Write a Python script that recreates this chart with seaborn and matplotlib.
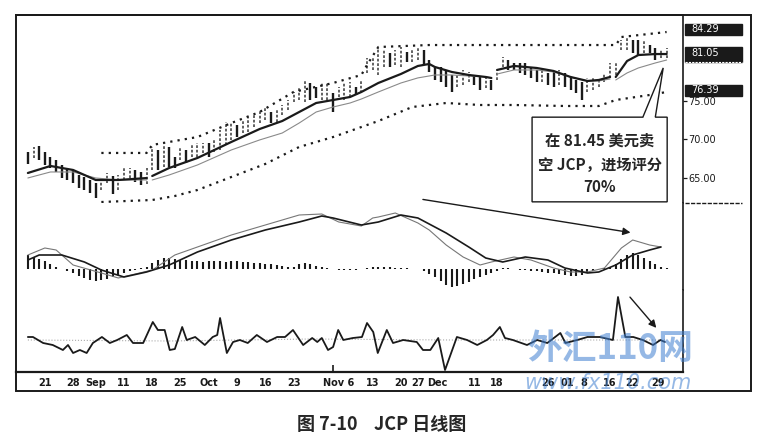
import numpy as np
import pandas as pd
import matplotlib
matplotlib.use('Agg')
import matplotlib.pyplot as plt
import matplotlib.transforms as mtransforms
from matplotlib.patches import Rectangle, Polygon
import seaborn as sns

# ---- price bars (one per trading day, index 0..113) ----
highs = [68.38, 69.03, 69.16, 68.38, 67.73, 67.34, 66.69, 66.30, 66.04, 65.39,
         65.13, 64.74, 64.35, 65.00, 65.65, 65.26, 65.39, 66.30, 66.30, 66.04,
         65.78, 66.30, 69.03, 68.64, 69.29, 69.03, 67.73, 69.03, 68.64, 69.29,
         69.55, 69.55, 69.55, 69.94, 71.23, 72.27, 72.27, 71.88, 72.53, 72.92,
         73.31, 73.83, 74.09, 73.57, 73.83, 74.48, 75.13, 76.17, 76.69, 77.73,
         77.34, 76.82, 77.34, 77.34, 76.04, 76.82, 77.34, 77.47, 76.82, 77.73,
         80.58, 80.71, 82.01, 81.62, 81.23, 81.62, 82.01, 81.36, 81.75, 82.01,
         81.62, 80.32, 79.42, 79.42, 79.03, 78.38, 78.77, 79.03, 78.77, 78.38,
         78.12, 77.99, 77.73, 78.77, 80.71, 80.32, 79.94, 79.94, 79.94, 79.29,
         79.03, 79.03, 78.64, 78.77, 79.03, 78.64, 77.99, 77.73, 77.47, 77.99,
         78.12, 77.99, 78.64, 79.94, 79.94, 82.92, 83.18, 82.92, 82.92, 82.92,
         82.27, 81.88, 81.62, 81.88]
lows = [66.82, 67.60, 67.34, 66.69, 66.30, 65.78, 65.00, 64.74, 64.35, 63.70,
        63.44, 63.05, 62.40, 63.44, 64.35, 62.92, 63.44, 64.74, 65.00, 64.48,
        64.09, 64.22, 66.04, 66.04, 66.43, 66.43, 66.30, 67.34, 66.95, 67.73,
        67.73, 68.25, 67.73, 68.38, 68.64, 69.29, 69.94, 70.32, 70.84, 70.97,
        71.62, 72.14, 72.53, 72.14, 72.27, 73.18, 73.83, 74.87, 75.13, 74.87,
        75.13, 75.39, 75.13, 75.13, 73.57, 75.52, 75.13, 75.52, 75.78, 76.04,
        78.64, 79.03, 78.38, 79.42, 79.42, 79.68, 79.42, 80.06, 80.06, 80.32,
        79.68, 78.77, 77.73, 77.47, 76.82, 76.17, 76.82, 77.08, 77.47, 77.08,
        76.43, 76.69, 76.43, 77.73, 79.42, 79.03, 79.03, 78.64, 78.38, 77.99,
        77.47, 77.47, 77.08, 76.82, 77.08, 76.82, 76.43, 76.04, 75.13, 76.17,
        76.43, 76.82, 77.47, 77.99, 78.38, 81.62, 81.62, 81.23, 80.97, 81.23,
        81.23, 80.32, 80.58, 80.58]

# ---- moving averages (read at sample days, 4 segments) ----
ma_idx = [0, 4, 8, 12, 16, 21,
          22, 25, 30, 36, 41, 45, 48, 51, 54, 57, 59, 62, 66, 69, 71, 72, 75, 78, 81, 82,
          83, 86, 90, 93, 96, 99, 101, 103,
          104, 106, 108, 111, 113]
ma_seg = [0] * 6 + [1] * 20 + [2] * 8 + [3] * 5
ma_fast = [65.65, 66.56, 66.04, 64.74, 64.74, 64.99,
           65.26, 66.30, 67.60, 69.68, 71.36, 72.40, 73.57, 74.74, 75.13, 75.52, 76.17, 77.34, 78.51, 79.55,
           79.81, 79.42, 78.77, 78.38, 78.12, 77.99,
           79.03, 79.55, 79.29, 78.90, 78.12, 77.60, 77.73, 78.12,
           78.12, 80.19, 80.97, 81.10, 81.10]
ma_slow = [65.0, 65.78, 65.78, 65.0, 64.74, 64.74,
           64.74, 65.39, 66.69, 68.64, 69.94, 70.84, 72.14, 73.57, 74.22, 74.74, 75.26, 76.17, 77.34, 78.0,
           78.25, 78.38, 78.38, 78.25, 78.12, 77.99,
           78.5, 79.03, 79.03, 78.77, 78.12, 77.6, 77.6, 77.86,
           77.73, 78.64, 79.29, 79.94, 80.32]

# ---- channel bands ----
up_idx = [13, 21, 22, 25, 30, 36, 41, 47, 54, 59, 60, 62, 71, 104, 105, 113]
up_val = [68.25, 68.25, 69.29, 69.68, 70.32, 72.14, 73.57, 76.17, 77.34, 78.38,
          79.68, 82.01, 82.27, 82.27, 83.31, 83.96]
lo_idx = [13, 22, 26, 30, 36, 42, 48, 54, 62, 68, 74, 80, 86, 95, 101, 104, 110, 113]
lo_val = [61.88, 62.14, 62.66, 63.44, 65.13, 66.82, 69.03, 70.32, 72.4, 74.22,
          74.74, 74.48, 74.48, 74.35, 74.35, 75.13, 75.78, 76.17]

# ---- MACD ----
macd_idx = [0, 2, 6, 10, 13, 17, 21, 25, 30, 36, 42, 48, 52, 54, 59, 62, 66, 69, 74, 78,
            81, 84, 88, 92, 95, 99, 101, 104, 107, 110, 112]
macd_val = [0.45, 0.7, 0.7, 0.35, -0.05, -0.4, -0.15, 0.2, 0.85, 1.45, 1.95, 2.35, 2.65, 2.55,
            2.2, 2.35, 2.7, 2.55, 1.8, 1.1, 0.55, 0.35, 0.6, 0.45, 0.05, -0.2, -0.15, 0.2,
            0.7, 0.95, 1.1]
sig_idx = [0, 3, 5, 8, 13, 16, 22, 26, 32, 36, 42, 48, 52, 55, 59, 61, 62, 65, 69, 71,
           74, 77, 80, 82, 86, 89, 93, 96, 99, 102, 105, 107, 110, 112]
sig_val = [0.7, 1.05, 0.95, 0.2, -0.2, -0.45, -0.05, 0.7, 1.3, 1.7, 2.2, 2.7, 2.75, 2.35,
           2.15, 2.55, 2.6, 2.8, 2.3, 1.95, 1.2, 0.6, 0.2, 0.35, 0.6, 0.45, 0.05, -0.15,
           -0.15, 0.05, 1.05, 1.45, 1.2, 1.1]
hist = [0.7, 0.6, 0.5, 0.4, 0.25, 0.1, 0.0, -0.1, -0.2, -0.35,
        -0.45, -0.55, -0.6, -0.55, -0.5, -0.4, -0.3, -0.2, -0.1, -0.05,
        0.05, 0.1, 0.3, 0.45, 0.55, 0.55, 0.5, 0.45, 0.45, 0.4,
        0.4, 0.35, 0.4, 0.4, 0.4, 0.35, 0.4, 0.4, 0.35, 0.35,
        0.3, 0.3, 0.25, 0.25, 0.2, 0.15, 0.1, 0.1, 0.25, 0.3,
        0.25, 0.15, 0.1, 0.05, 0.0, -0.05, -0.05, -0.05, -0.05, 0.0,
        0.05, 0.1, 0.1, 0.1, 0.1, 0.05, 0.05, 0.05, 0.0, 0.0,
        -0.1, -0.25, -0.4, -0.6, -0.8, -0.9, -0.85, -0.75, -0.65, -0.5,
        -0.4, -0.3, -0.2, -0.1, 0.05, 0.05, 0.0, -0.05, -0.05, -0.1,
        -0.1, -0.15, -0.2, -0.2, -0.25, -0.3, -0.35, -0.35, -0.3, -0.2,
        -0.1, 0.0, 0.05, 0.1, 0.25, 0.5, 0.7, 0.8, 0.7, 0.55,
        0.4, 0.25, 0.1, 0.05]

# ---- bottom oscillator ----
osc_x = [0, 0.9, 2.7, 4.4, 6.2, 7.1, 8.0, 9.2, 10.4, 11.5, 13.1, 14.5, 15.8, 17.5, 18.6,
         20.4, 22.1, 23.0, 24.2, 25.1, 26.0, 27.3, 28.1, 29.6, 31.3, 32.7, 33.5, 34.0,
         35.2, 36.3, 37.5, 38.9, 40.5, 42.3, 44.1, 45.5, 46.9, 48.7, 50.3, 51.2, 52.0,
         53.1, 54.0, 54.9, 55.8, 57.5, 59.1, 60.0, 61.1, 61.9, 63.5, 64.6, 66.4, 68.8,
         69.9, 71.2, 72.6, 73.8, 75.9, 77.7, 79.5, 81.2, 82.3, 83.5, 84.4, 85.8, 88.3,
         90.1, 91.9, 94.2, 95.1, 97.2, 99.0, 101.2, 103.5, 104.4, 105.7, 107.1, 108.8,
         110.6, 111.9, 112.7]
osc_v = [1.3, 1.3, 0.7, 0.5, 0.0, 0.5, -0.3, 0.0, -0.3, 0.7, 1.3, 0.7, 1.0, 1.5, 0.7,
         0.7, 2.8, 2.0, 2.0, 0.0, 0.1, 2.3, 1.0, 1.3, 0.5, 1.3, 1.5, 3.2, -0.3, 0.8,
         1.0, 0.7, 1.5, 0.8, 1.3, 1.3, 2.0, 0.5, 1.2, 0.8, 1.2, 0.0, 0.3, 2.0, 1.0,
         1.2, 1.3, 2.7, 1.8, -0.3, 2.0, 0.7, 1.0, 0.8, 0.0, 0.0, 1.2, -2.0, 1.3, 1.0,
         0.5, 1.0, 1.5, 2.3, 1.2, 1.0, 0.5, 1.0, 0.7, 1.7, 0.7, 1.0, 1.3, 1.3, 1.0,
         5.3, 1.3, 1.3, 1.0, 0.5, 1.0, 0.8]
osc_sig_x = [0, 25, 50, 75, 100, 113]
osc_sig_v = [1.0, 0.9, 1.1, 1.0, 1.0, 1.0]

# ---- axis text ----
date_pos = [3, 8, 12, 17, 22, 27, 32, 37, 42, 47, 55, 61, 66, 69, 72.5, 79, 83,
            92, 95.5, 98.3, 103, 106.8, 111.5]
date_lbl = ['21', '28', 'Sep', '11', '18', '25', 'Oct', '9', '16', '23', 'Nov 6', '13',
            '20', '27', 'Dec', '11', '18', '26', '01', '8', '16', '22', '29']
month_pos = [12, 32, 54, 72.5, 95.5]
price_ticks = [65, 70, 75]
last_labels = [84.29, 81.05, 76.39]
note_lines = ['在 81.45 美元卖', '空 JCP，进场评分', '70%']

sns.set_theme(style='white')
plt.rcParams['font.family'] = ['DejaVu Sans', 'Noto Sans CJK SC']
cjk = ['Noto Sans CJK SC', 'DejaVu Sans']

W, H = 761, 443
fig = plt.figure(figsize=(W / 100, H / 100), dpi=100)


def box(l, t, r, b):
    return [l / W, 1 - b / H, (r - l) / W, (b - t) / H]


ax_p = fig.add_axes(box(16, 15, 683, 203))
ax_m = fig.add_axes(box(16, 203, 683, 290))
ax_o = fig.add_axes(box(16, 290, 683, 372))
for ax in (ax_p, ax_m, ax_o):
    ax.set_xlim(-2.1, 115.9)
    ax.set_facecolor('white')
    for s in ax.spines.values():
        s.set_visible(False)
    ax.spines['right'].set_visible(True)
    ax.spines['right'].set_color('k')
    ax.spines['right'].set_linewidth(1.2)
    ax.set_xticks([])
    ax.set_xlabel('')
    ax.set_ylabel('')

# price panel
idx = np.arange(len(highs))
hi = np.array(highs)
lo = np.array(lows)
mid = (hi + lo) / 2
dark = np.r_[True, mid[1:] < mid[:-1]]
ax_p.vlines(idx[dark], lo[dark], hi[dark], color='k', lw=1.7)
ax_p.vlines(idx[~dark], lo[~dark], hi[~dark], color='#555555', lw=1.3, linestyles=(0, (1.5, 1)))

ma_df = pd.DataFrame({'i': ma_idx, 'seg': ma_seg, 'fast': ma_fast, 'slow': ma_slow})
sns.lineplot(data=ma_df, x='i', y='slow', units='seg', estimator=None, color='#8a8a8a', lw=0.8, ax=ax_p)
sns.lineplot(data=ma_df, x='i', y='fast', units='seg', estimator=None, color='k', lw=1.6, ax=ax_p)
ax_p.plot(up_idx, up_val, color='k', lw=1.6, ls=(0, (1, 2.3)))
ax_p.plot(lo_idx, lo_val, color='k', lw=1.6, ls=(0, (1, 2.3)))
ax_p.set_ylim(61.75, 86.17)
ax_p.spines['top'].set_visible(True)
ax_p.spines['top'].set_color('k')
ax_p.spines['top'].set_linewidth(1.4)
ax_p.set_yticks(price_ticks)
ax_p.set_yticklabels(['%.2f' % v for v in price_ticks])
ax_p.tick_params(axis='y', left=False, right=True, labelleft=False, labelright=True,
                 direction='out', length=3, width=0.9, pad=1, labelsize=7, colors='k')
ax_p.set_xlabel('')
ax_p.set_ylabel('')

# boxed last values in the price strip
tr = mtransforms.blended_transform_factory(ax_p.transAxes, ax_p.transData)
for k, v in enumerate(last_labels):
    hgt = 1.4 if k != 1 else 2.0
    ax_p.add_patch(Rectangle((1.003, v - hgt / 2), 0.086, hgt, transform=tr, fc='k', ec='k',
                             clip_on=False, zorder=6))
    ax_p.text(1.012, v + (0.15 if k == 1 else 0), '%.2f' % v, transform=tr, color='white',
              fontsize=7, va='center', ha='left', clip_on=False, zorder=7)
ax_p.plot([1.003, 1.089], [80.1, 80.1], transform=tr, color='white', lw=0.8,
          ls=(0, (2, 1)), clip_on=False, zorder=7)
ax_m.plot([1.003, 1.088], [1, 1], transform=ax_m.transAxes, color='k', lw=1,
          ls=(0, (3, 1)), clip_on=False)

# callout
note = Polygon([(89.2, 72.9), (108.8, 72.9), (112.4, 79.3), (111.0, 72.9), (113.1, 72.9),
                (113.1, 61.9), (89.2, 61.9)], closed=True, fc='white', ec='k', lw=1.0,
               zorder=8, clip_on=False)
ax_p.add_patch(note)
for k, (s, yv) in enumerate(zip(note_lines, [69.9, 66.7, 63.85])):
    ax_p.text(101.2, yv, s, ha='center', va='center', fontsize=11, fontweight='bold',
              family=cjk, zorder=9)

# MACD panel
ax_m.vlines(idx, 0, hist, color='k', lw=1.5)
sns.lineplot(x=sig_idx, y=sig_val, color='#777777', lw=0.8, ax=ax_m)
sns.lineplot(x=macd_idx, y=macd_val, color='k', lw=1.2, ax=ax_m)
ax_m.set_ylim(-1.05, 3.3)
ax_m.set_yticks([])
ax_m.annotate('', xy=(107.1, 1.8), xytext=(69.4, 3.5), annotation_clip=False,
              arrowprops=dict(arrowstyle='-|>', color='k', lw=1.0, mutation_scale=11))

# oscillator panel
sns.lineplot(x=osc_sig_x, y=osc_sig_v, color='#aaaaaa', lw=0.8, ls=':', ax=ax_o)
sns.lineplot(x=osc_x, y=osc_v, color='k', lw=1.3, ax=ax_o)
ax_o.set_ylim(-2.2, 6.0)
ax_o.set_yticks([])
ax_o.annotate('', xy=(111.5, 2.0), xytext=(106.2, 5.5), annotation_clip=False,
              arrowprops=dict(arrowstyle='-|>', color='k', lw=1.0, mutation_scale=11))
ax_o.spines['bottom'].set_visible(True)
ax_o.spines['bottom'].set_color('k')
ax_o.spines['bottom'].set_linewidth(1.6)
ax_o.set_xticks(date_pos)
ax_o.set_xticklabels(date_lbl, fontsize=7, fontweight='bold', color='k')
ax_o.set_xticks(month_pos, minor=True)
ax_o.tick_params(axis='x', which='major', length=0, pad=4, bottom=True)
ax_o.tick_params(axis='x', which='minor', direction='in', length=5, width=1.2,
                 bottom=True, color='k')
ax_o.set_xlabel('')
ax_o.set_ylabel('')

# outer frame
fig.add_artist(Rectangle((16 / W, 1 - 391 / H), (751 - 16) / W, (391 - 15) / H,
                         transform=fig.transFigure, fill=False, ec='k', lw=1.4))

# watermark (sits over the date labels, as in the scan)
fig.text(610 / W, 1 - 349 / H, '外汇110网', fontsize=25, fontweight='bold', color='#3f7fd0',
         alpha=0.55, ha='center', va='center', family=cjk, style='italic')
fig.text(608 / W, 1 - 383 / H, 'www.fx110.com', fontsize=15, color='#3f7fd0', alpha=0.55,
         ha='center', va='center', style='italic')

# caption
fig.text(382 / W, 1 - 424 / H, '图 7-10    JCP 日线图', fontsize=13, fontweight='bold',
         ha='center', va='center', family=cjk)

fig.savefig('out.png', dpi=100, facecolor='white')
